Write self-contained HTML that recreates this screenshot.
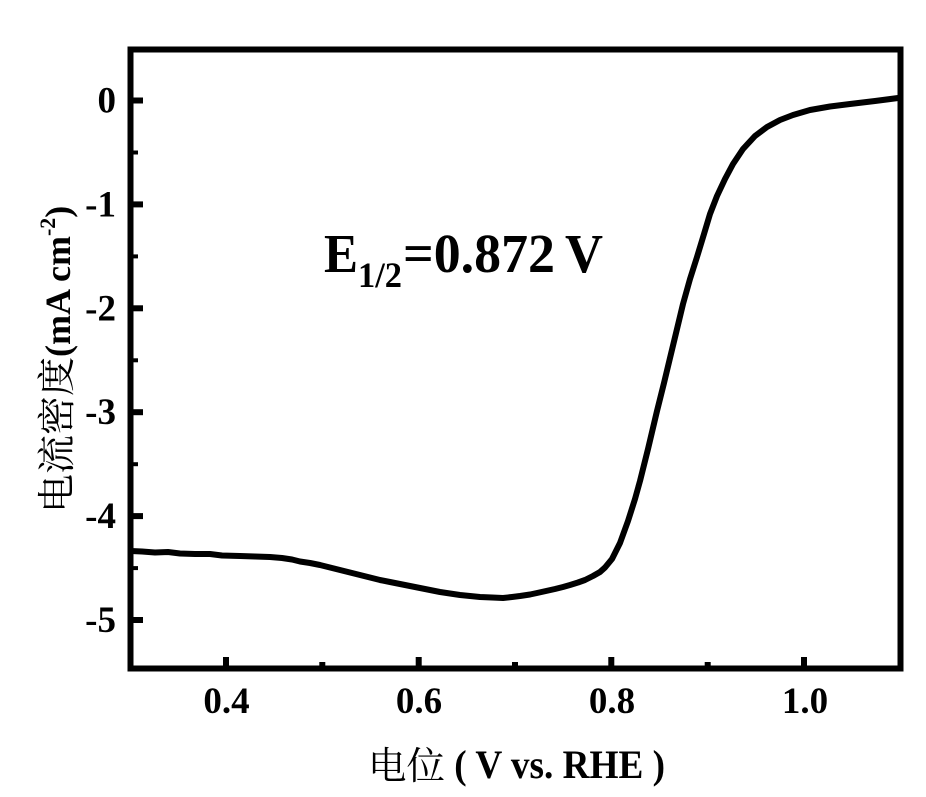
<!DOCTYPE html>
<html>
<head>
<meta charset="utf-8">
<style>
  html, body { margin: 0; padding: 0; background: #fff; }
  body { width: 926px; height: 797px; overflow: hidden; }
  svg { display: block; }
  .lat { font-family: "Liberation Serif", "Noto Serif CJK SC", serif; font-weight: bold; fill: #000; }
  .cjk { font-family: "Noto Serif CJK SC", "Liberation Serif", serif; font-weight: normal; fill: #000; }
</style>
</head>
<body>
<svg width="926" height="797" viewBox="0 0 926 797" xmlns="http://www.w3.org/2000/svg">
  <rect x="0" y="0" width="926" height="797" fill="#fff"/>

  <!-- curve -->
  <polyline fill="none" stroke="#000" stroke-width="6" stroke-linejoin="round" stroke-linecap="round"
    points="131,551 142,551.5 155,552.5 168,552 180,553.5 195,554 210,554 222,555.5 240,556 255,556.5 270,557 282,558 292,559.5 300,561.5 310,563 320,565 330,567.5 340,570 350,572.5 360,575 370,577.5 380,580 390,582 400,584 410,586 420,588 430,590 440,592 450,593.5 460,595 470,596 480,597 492,597.5 503,598 512,597 520,596 530,594.5 537,593 546,591 555,589 563,587 570,585 578,582.5 585,580 593,576 600,572 605,567.5 612,559 620,543 628,521 635,499 640,481 648,449 657,411 664,383 670,358 677,329 683,304 690,279 697,257 704,234 710,214 717,196 725,179 733,164 743,149 755,136 767,127 780,120 793,115 810,110 830,106.5 850,104 875,101 898,98"/>

  <!-- frame -->
  <rect x="130.5" y="49.5" width="770" height="619" fill="none" stroke="#000" stroke-width="6"/>

  <!-- y major ticks -->
  <g stroke="#000" stroke-width="6">
    <line x1="133" y1="100.5" x2="143" y2="100.5"/>
    <line x1="133" y1="204.4" x2="143" y2="204.4"/>
    <line x1="133" y1="308.3" x2="143" y2="308.3"/>
    <line x1="133" y1="412.2" x2="143" y2="412.2"/>
    <line x1="133" y1="516.1" x2="143" y2="516.1"/>
    <line x1="133" y1="620" x2="143" y2="620"/>
  </g>
  <!-- y minor ticks -->
  <g stroke="#000" stroke-width="4">
    <line x1="133" y1="152.5" x2="138" y2="152.5"/>
    <line x1="133" y1="256.4" x2="138" y2="256.4"/>
    <line x1="133" y1="360.3" x2="138" y2="360.3"/>
    <line x1="133" y1="464.2" x2="138" y2="464.2"/>
    <line x1="133" y1="568.1" x2="138" y2="568.1"/>
  </g>
  <!-- x major ticks -->
  <g stroke="#000" stroke-width="6">
    <line x1="226" y1="666" x2="226" y2="657"/>
    <line x1="418.7" y1="666" x2="418.7" y2="657"/>
    <line x1="611.3" y1="666" x2="611.3" y2="657"/>
    <line x1="804" y1="666" x2="804" y2="657"/>
  </g>
  <!-- x minor ticks -->
  <g stroke="#000" stroke-width="6">
    <line x1="322.3" y1="666" x2="322.3" y2="662"/>
    <line x1="515" y1="666" x2="515" y2="662"/>
    <line x1="707.7" y1="666" x2="707.7" y2="662"/>
  </g>

  <!-- y tick labels -->
  <g class="lat" font-size="37" text-anchor="end">
    <text x="116" y="112.5">0</text>
    <text x="116" y="216.4">-1</text>
    <text x="116" y="320.3">-2</text>
    <text x="116" y="424.2">-3</text>
    <text x="116" y="528.1">-4</text>
    <text x="116" y="632">-5</text>
  </g>

  <!-- x tick labels -->
  <g class="lat" font-size="37" text-anchor="middle">
    <text x="226.5" y="713">0.4</text>
    <text x="419" y="713">0.6</text>
    <text x="612" y="713">0.8</text>
    <text x="805" y="713">1.0</text>
  </g>

  <!-- x axis title -->
  <text class="cjk" x="368" y="779" font-size="38" textLength="77" lengthAdjust="spacingAndGlyphs">电位</text>
  <text class="lat" x="445" y="778" font-size="40" textLength="220" lengthAdjust="spacingAndGlyphs" xml:space="preserve"> ( V vs. RHE )</text>

  <!-- y axis title -->
  <g transform="translate(70,513) rotate(-90)">
    <text class="cjk" x="0" y="0" font-size="38" textLength="156" lengthAdjust="spacingAndGlyphs">电流密度</text>
    <text class="lat" x="156" y="0" font-size="36" xml:space="preserve">(mA cm<tspan font-size="22" dy="-15">-2</tspan><tspan dy="15">)</tspan></text>
  </g>

  <!-- annotation -->
  <text class="lat" x="324" y="272" font-size="55" textLength="34" lengthAdjust="spacingAndGlyphs">E</text>
  <text class="lat" x="358" y="287" font-size="36" textLength="44" lengthAdjust="spacingAndGlyphs">1/2</text>
  <text class="lat" x="403" y="272" font-size="55" textLength="152" lengthAdjust="spacingAndGlyphs">=0.872</text>
  <text class="lat" x="565" y="272" font-size="55" textLength="38" lengthAdjust="spacingAndGlyphs">V</text>
</svg>
</body>
</html>
